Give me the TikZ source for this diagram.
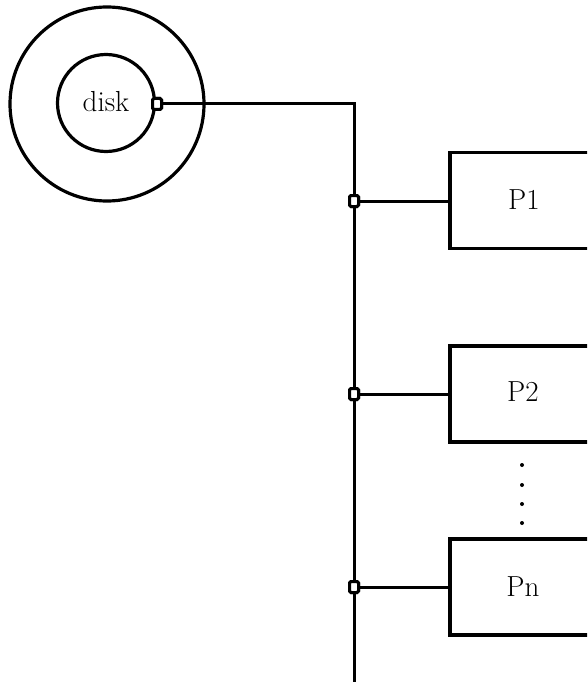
\documentclass[tikz,border=0pt]{standalone}
\begin{document}
\begin{tikzpicture}[x=1pt,y=-1pt,
  ring/.style={draw,circle,line width=3.2pt,inner sep=0pt},
  pbox/.style={draw,rectangle,line width=3.2pt,minimum width=170pt,minimum height=96pt,inner sep=0pt},
  wire/.style={line width=3pt},
  jsq/.style={draw,fill=white,rectangle,rounded corners=1.5pt,line width=3pt,minimum width=9pt,minimum height=11pt,inner sep=0pt},
  lbl/.style={font=\fontsize{29}{32}\selectfont},
  dot/.style={circle,fill,inner sep=0pt,minimum size=4pt}]
\useasboundingbox (0,0) rectangle (587,682);
\clip (0,0) rectangle (587,682);
% disk
\node[ring,minimum size=194pt] (outer) at (107,104) {};
\node[ring,minimum size=97pt] (inner) at (106,103) {};
\node[lbl] (disklbl) at (106,102) {disk};
% processor boxes
\node[pbox] (p1) at (535,200.5) {};
\node[lbl] (p1l) at (524,200) {P1};
\node[pbox] (p2) at (535,394) {};
\node[lbl] (p2l) at (523,392) {P2};
\node[pbox] (pn) at (535,587) {};
\node[lbl] (pnl) at (523,587) {Pn};
% bus
\coordinate (bustop) at (354,104);
\coordinate (busbot) at (354,684);
\node[jsq] (dsq) at (157,104) {};
\node[jsq] (j1) at (354,201) {};
\node[jsq] (j2) at (354,394) {};
\node[jsq] (jn) at (354,587) {};
\draw[wire] (dsq.east) -- (bustop) -- (busbot);
\draw[wire] (j1.east) -- (p1.west |- j1.east);
\draw[wire] (j2.east) -- (p2.west |- j2.east);
\draw[wire] (jn.east) -- (pn.west |- jn.east);
\node[jsq] at (dsq) {};
\node[jsq] at (j1) {};
\node[jsq] at (j2) {};
\node[jsq] at (jn) {};
% dots
\node[dot] (d1) at (522,465) {};
\node[dot] (d2) at (522,485) {};
\node[dot] (d3) at (522,504) {};
\node[dot] (d4) at (522,523) {};
\end{tikzpicture}
\end{document}
